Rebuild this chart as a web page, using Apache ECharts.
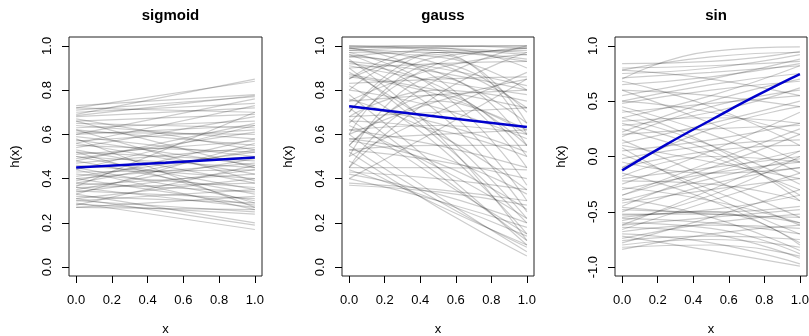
<!DOCTYPE html>
<html>
<head>
<meta charset="utf-8">
<script src="https://cdn.jsdelivr.net/npm/echarts@6/dist/echarts.min.js"></script>
<style>
  html, body { margin: 0; padding: 0; background: #fff; }
  #chart { width: 809px; height: 336px; }
</style>
</head>
<body>
<div id="chart"></div>
<script>
// x positions of the sampled points
const xs2 = [0, 1];
const xs3 = [0, 0.5, 1];
const xs5 = [0, 0.25, 0.5, 0.75, 1];

const panelTitles = ['sigmoid', 'gauss', 'sin'];
const xTicks = [0, 0.2, 0.4, 0.6, 0.8, 1];
const yTicks01 = [0, 0.2, 0.4, 0.6, 0.8, 1];
const yTicksSin = [-1, -0.5, 0, 0.5, 1];

// sigmoid: [h(0), h(1)]
const sigmoidLines = [
  [0.69, 0.85], [0.72, 0.84], [0.73, 0.78], [0.71, 0.77], [0.685, 0.775], [0.70, 0.74],
  [0.72, 0.70], [0.68, 0.72], [0.66, 0.69], [0.65, 0.63], [0.64, 0.58], [0.63, 0.66],
  [0.62, 0.55], [0.61, 0.60], [0.60, 0.64], [0.59, 0.50], [0.58, 0.27], [0.575, 0.46],
  [0.57, 0.62], [0.56, 0.42], [0.55, 0.52], [0.54, 0.68], [0.53, 0.38], [0.52, 0.48],
  [0.51, 0.57], [0.50, 0.35], [0.50, 0.45], [0.49, 0.61], [0.48, 0.33], [0.47, 0.54],
  [0.46, 0.40], [0.45, 0.50], [0.45, 0.30], [0.44, 0.64], [0.43, 0.44], [0.42, 0.36],
  [0.41, 0.52], [0.40, 0.28], [0.40, 0.47], [0.39, 0.58], [0.38, 0.34], [0.37, 0.42],
  [0.365, 0.70], [0.36, 0.27], [0.36, 0.38], [0.35, 0.49], [0.345, 0.31], [0.34, 0.44],
  [0.33, 0.20], [0.33, 0.56], [0.32, 0.29], [0.31, 0.19], [0.31, 0.40], [0.30, 0.25],
  [0.30, 0.35], [0.29, 0.17], [0.285, 0.24], [0.28, 0.46], [0.27, 0.26], [0.27, 0.32],
  [0.60, 0.76], [0.67, 0.53], [0.62, 0.39], [0.56, 0.73], [0.44, 0.26], [0.48, 0.65],
  [0.52, 0.29], [0.38, 0.53], [0.66, 0.45]
];
const sigmoidMean = [0.45, 0.472, 0.495];

// gauss: [h(0), h(0.5), h(1)]
const gaussLines = [
  [1.0, 1.0, 0.99], [0.99, 1.0, 1.0], [0.995, 0.99, 0.97], [0.98, 0.995, 1.0], [1.0, 0.98, 0.93],
  [0.99, 0.97, 0.99], [0.97, 0.80, 0.37], [0.99, 0.85, 0.45], [0.96, 0.75, 0.30], [0.95, 0.88, 0.65],
  [0.93, 0.70, 0.25], [0.98, 0.92, 0.72], [0.94, 0.60, 0.12], [0.92, 0.82, 0.55], [0.90, 0.58, 0.20],
  [0.97, 0.95, 0.80], [0.55, 0.85, 1.0], [0.65, 0.92, 0.99], [0.45, 0.78, 0.97], [0.70, 0.95, 0.98],
  [0.60, 0.75, 0.85], [0.50, 0.70, 0.88], [0.40, 0.62, 0.85], [0.75, 0.90, 0.96], [0.80, 0.97, 0.94],
  [0.85, 0.99, 0.90], [0.55, 0.78, 0.50], [0.60, 0.92, 0.70], [0.70, 0.97, 0.60], [0.50, 0.86, 0.55],
  [0.45, 0.75, 0.60], [0.85, 0.96, 0.65], [0.88, 0.62, 0.22], [0.82, 0.55, 0.15], [0.78, 0.45, 0.10],
  [0.72, 0.42, 0.12], [0.67, 0.40, 0.15], [0.60, 0.32, 0.07], [0.55, 0.30, 0.09], [0.52, 0.27, 0.05],
  [0.48, 0.28, 0.10], [0.44, 0.30, 0.14], [0.42, 0.33, 0.20], [0.40, 0.30, 0.18], [0.38, 0.35, 0.30],
  [0.37, 0.34, 0.28], [0.43, 0.40, 0.35], [0.53, 0.48, 0.40], [0.58, 0.50, 0.33], [0.62, 0.55, 0.45],
  [0.66, 0.62, 0.50], [0.73, 0.65, 0.52], [0.80, 0.72, 0.58], [0.86, 0.78, 0.62], [0.76, 0.60, 0.35],
  [0.64, 0.45, 0.22], [0.57, 0.47, 0.26], [0.45, 0.45, 0.44], [0.53, 0.55, 0.55], [0.58, 0.60, 0.62],
  [0.68, 0.70, 0.72], [0.62, 0.64, 0.60], [0.75, 0.78, 0.80], [0.83, 0.85, 0.86], [0.90, 0.92, 0.93],
  [0.68, 0.80, 0.75], [0.87, 0.80, 0.72], [0.93, 0.88, 0.80], [0.96, 0.90, 0.82], [0.91, 0.84, 0.78],
  [0.95, 0.98, 0.96]
];
const gaussMean = [0.727, 0.68, 0.633];

// sin: [h(0), h(0.5), h(1)]
const sinLines = [
  [0.70, 0.95, 0.99], [0.78, 0.90, 0.94], [0.84, 0.86, 0.95], [0.80, 0.82, 0.86], [0.75, 0.80, 0.92],
  [0.71, 0.76, 0.82], [0.78, 0.70, 0.55], [0.65, 0.72, 0.84], [0.60, 0.55, 0.45], [0.55, 0.70, 0.88],
  [0.50, 0.40, 0.20], [0.48, 0.60, 0.68], [0.45, 0.20, -0.15], [0.40, 0.48, 0.55], [0.35, 0.10, -0.25],
  [0.32, 0.35, 0.30], [0.30, 0.05, -0.35], [0.28, 0.40, 0.62], [0.25, 0.00, -0.30], [0.20, 0.25, 0.28],
  [0.15, -0.20, -0.55], [0.12, 0.30, 0.50], [0.10, -0.05, -0.20], [0.05, 0.15, 0.30], [0.02, -0.30, -0.62],
  [-0.02, 0.10, 0.15], [-0.05, -0.15, -0.10], [-0.10, 0.05, 0.10], [-0.15, -0.40, -0.78], [-0.18, 0.00, -0.05],
  [-0.20, -0.10, 0.00], [-0.22, -0.25, -0.40], [-0.25, 0.05, 0.40], [-0.28, -0.40, -0.60], [-0.30, -0.15, -0.05],
  [-0.35, -0.10, 0.20], [-0.38, -0.55, -0.85], [-0.40, -0.20, -0.02], [-0.42, -0.30, -0.20], [-0.45, -0.15, 0.05],
  [-0.48, -0.50, -0.45], [-0.50, -0.25, -0.10], [-0.52, -0.52, -0.60], [-0.53, -0.48, -0.35], [-0.55, -0.50, -0.80],
  [-0.56, -0.60, -0.70], [-0.58, -0.35, 0.00], [-0.60, -0.65, -0.88], [-0.62, -0.55, -0.48], [-0.64, -0.70, -0.92],
  [-0.66, -0.40, -0.15], [-0.68, -0.62, -0.65], [-0.70, -0.78, -0.97], [-0.72, -0.85, -0.99], [-0.74, -0.60, -0.52],
  [-0.76, -0.72, -0.75], [-0.78, -0.55, -0.30], [-0.80, -0.75, -0.82], [-0.82, -0.80, -0.90], [-0.84, -0.70, -0.62],
  [0.60, 0.30, -0.05], [0.50, 0.65, 0.75], [0.22, 0.50, 0.70], [-0.10, 0.25, 0.45], [-0.35, -0.05, 0.25],
  [0.42, 0.10, -0.40], [0.68, 0.45, 0.10], [0.08, -0.35, -0.70], [-0.46, -0.52, -0.55], [0.35, 0.55, 0.82],
  [-0.62, -0.30, 0.05], [0.18, 0.45, 0.60]
];
const sinMean = [-0.125, 0.11, 0.33, 0.545, 0.745];

const chart = echarts.init(document.getElementById('chart'));
const font = 'Liberation Sans, Arial, sans-serif';

const panels = [
  { left: 69, width: 193, lines: sigmoidLines, xsLine: xs2, mean: sigmoidMean, xsMean: xs3,
    ymin: -0.04, ymax: 1.04, yTicks: yTicks01, smooth: false },
  { left: 342, width: 192, lines: gaussLines, xsLine: xs3, mean: gaussMean, xsMean: xs3,
    ymin: -0.04, ymax: 1.04, yTicks: yTicks01, smooth: 0.5 },
  { left: 615, width: 192, lines: sinLines, xsLine: xs3, mean: sinMean, xsMean: xs5,
    ymin: -1.08, ymax: 1.08, yTicks: yTicksSin, smooth: 0.5 }
];

const grids = [], xAxes = [], yAxes = [], titles = [], series = [];

panels.forEach((p, i) => {
  grids.push({ left: p.left, width: p.width, top: 37, height: 239, show: true,
    outerBoundsMode: 'none', containLabel: false,
    borderColor: '#222', borderWidth: 1, backgroundColor: 'transparent' });
  titles.push({ text: panelTitles[i], left: p.left + p.width / 2, top: 3, textAlign: 'center',
    textStyle: { fontFamily: font, fontSize: 15, fontWeight: 'bold', color: '#000' } });
  xAxes.push({
    type: 'value', gridIndex: i, min: -0.04, max: 1.04,
    name: 'x', nameLocation: 'middle', nameGap: 47,
    nameTextStyle: { fontFamily: font, fontSize: 13, color: '#000' },
    axisLine: { show: false, onZero: false }, splitLine: { show: false },
    axisTick: { show: true, length: 7, customValues: xTicks, lineStyle: { color: '#000' } },
    axisLabel: { customValues: xTicks, margin: 18, formatter: v => v.toFixed(1),
      fontFamily: font, fontSize: 13, color: '#000' }
  });
  yAxes.push({
    type: 'value', gridIndex: i, min: p.ymin, max: p.ymax,
    name: 'h(x)', nameLocation: 'middle', nameGap: 47, nameRotate: 90,
    nameTextStyle: { fontFamily: font, fontSize: 13, color: '#000' },
    axisLine: { show: false, onZero: false }, splitLine: { show: false },
    axisTick: { show: true, length: 7, customValues: p.yTicks, lineStyle: { color: '#000' } },
    axisLabel: { customValues: p.yTicks, rotate: 90, margin: 15, formatter: v => v.toFixed(1),
      fontFamily: font, fontSize: 13, color: '#000' }
  });
  p.lines.forEach(vals => {
    series.push({
      type: 'line', xAxisIndex: i, yAxisIndex: i, symbol: 'none', silent: true,
      smooth: p.smooth, animation: false,
      lineStyle: { color: 'rgba(0,0,0,0.2)', width: 1.2 },
      data: vals.map((v, k) => [p.xsLine[k], v])
    });
  });
  series.push({
    type: 'line', xAxisIndex: i, yAxisIndex: i, symbol: 'none', silent: true,
    smooth: 0.6, animation: false, z: 5,
    lineStyle: { color: '#0000cd', width: 2.5 },
    data: p.mean.map((v, k) => [p.xsMean[k], v])
  });
});

chart.setOption({
  animation: false,
  title: titles,
  grid: grids,
  xAxis: xAxes,
  yAxis: yAxes,
  series: series
});
</script>
</body>
</html>
